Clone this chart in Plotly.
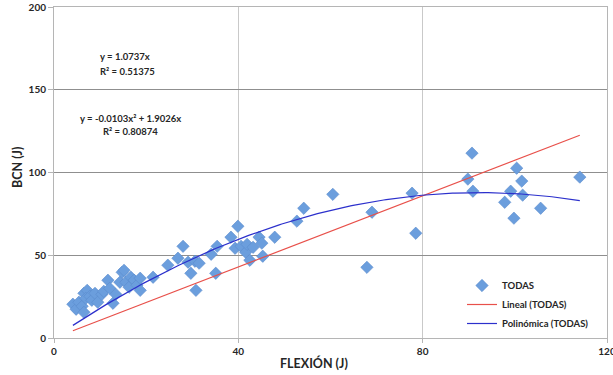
import numpy as np
import plotly.graph_objects as go

# Data (FLEXIÓN J vs BCN J)
flexion = [4.1, 4.8, 5.4, 6.1, 6.5, 7.2, 6.9, 7.8, 6.5, 8.2,
           8.9, 9.5, 10.4, 10.8, 11.7, 12.1, 12.8, 13.4, 14.3, 14.8,
           15.2, 15.6, 16.3, 16.7, 17.4, 18.0, 18.7, 18.7, 21.5, 24.7,
           26.9, 28.0, 29.1, 29.7, 30.6, 30.8, 31.5, 34.1, 35.1, 35.4,
           38.4, 39.9, 39.3, 40.6, 41.6, 41.9, 43.2, 42.5, 44.5, 45.1,
           45.3, 47.9, 52.7, 54.2, 60.5, 67.9, 69.0, 77.7, 78.5, 89.8,
           90.7, 90.9, 97.8, 99.1, 99.8, 100.4, 101.5, 101.7, 105.6, 114.1]
bcn = [20.4, 17.4, 21.6, 19.2, 27.0, 28.8, 24.0, 25.2, 15.5, 22.8,
       27.0, 21.6, 26.4, 28.2, 34.9, 30.0, 21.0, 26.4, 33.7, 39.7,
       40.9, 33.7, 30.7, 36.7, 34.9, 31.9, 36.1, 28.8, 36.7, 44.0,
       48.2, 55.4, 45.8, 39.1, 46.4, 28.8, 45.2, 50.6, 39.1, 55.4,
       60.9, 67.5, 54.2, 55.4, 51.8, 56.6, 54.8, 47.0, 60.9, 57.3,
       49.4, 60.9, 70.6, 78.4, 86.8, 42.7, 76.0, 87.5, 63.3, 96.0,
       111.7, 88.7, 82.0, 88.7, 72.4, 102.6, 94.8, 86.3, 78.4, 97.2]

# Trendline coefficients shown on the chart
lin_coef = [1.0737]            # y = a*x
poly_coef = [-0.0103, 1.9026]  # y = a*x^2 + b*x
lin_label = ["y = 1.0737x", "R² = 0.51375"]
poly_label = ["y = -0.0103x² + 1.9026x", "R² = 0.80874"]

x_ticks = [0, 40, 80, 120]
y_ticks = [0, 50, 100, 150, 200]

xs = np.linspace(min(flexion), max(flexion), 200)
y_lin = lin_coef[0] * xs
y_poly = poly_coef[0] * xs ** 2 + poly_coef[1] * xs

FONT = "Lato"
TXT = "#262626"

# plot-area geometry (pixels)
L, R, T, B = 54, 6, 7, 37
W, H = 613, 375
PW, PH = W - L - R, H - T - B


def px_x(px):
    return (px - L) / PW


def px_y(py):
    return (H - B - py) / PH


fig = go.Figure()
fig.add_trace(go.Scatter(
    x=flexion, y=bcn, mode="markers", name="TODAS",
    marker=dict(symbol="diamond", size=9.5, color="#6b9edd",
                line=dict(color="#5b8ccc", width=0.6))))
fig.add_trace(go.Scatter(
    x=xs, y=y_lin, mode="lines", name="Lineal (TODAS)",
    line=dict(color="#e8504a", width=1.2)))
fig.add_trace(go.Scatter(
    x=xs, y=y_poly, mode="lines", name="Polinómica (TODAS)",
    line=dict(color="#2c30cc", width=1.2)))

ann_font = dict(family=FONT, size=9.5, color=TXT, weight="bold")
eq_pos = [(125, 57), (127, 71), (130, 118), (130, 131)]
eq_txt = [lin_label[0], lin_label[1], poly_label[0], poly_label[1]]
for (px, py), t in zip(eq_pos, eq_txt):
    fig.add_annotation(xref="paper", yref="paper", showarrow=False,
                       x=px_x(px), y=px_y(py), xanchor="center", yanchor="middle",
                       text=t, font=ann_font)
# axis titles
fig.add_annotation(xref="paper", yref="paper", showarrow=False,
                   x=px_x(314), y=px_y(363), xanchor="center", yanchor="middle",
                   text="FLEXIÓN (J)",
                   font=dict(family=FONT, size=12.5, color=TXT, weight="bold"))
fig.add_annotation(xref="paper", yref="paper", showarrow=False,
                   x=px_x(18), y=px_y(168), xanchor="center", yanchor="middle",
                   text="BCN (J)", textangle=-90,
                   font=dict(family=FONT, size=12.5, color=TXT, weight="bold"))

fig.update_layout(
    width=W, height=H,
    margin=dict(l=L, r=R, t=T, b=B, autoexpand=False),
    paper_bgcolor="white", plot_bgcolor="white",
    showlegend=True,
    legend=dict(x=px_x(462), y=px_y(271), xanchor="left", yanchor="top",
                bgcolor="rgba(0,0,0,0)",
                font=dict(family=FONT, size=9.5, color=TXT, weight="bold"),
                tracegroupgap=0, itemwidth=30),
)

fig.update_xaxes(range=[0, 120], tickvals=x_ticks, ticktext=[str(v) for v in x_ticks],
                 showgrid=True, gridcolor="#c9c9c9", gridwidth=1,
                 showline=True, linecolor="#b5b5b5", linewidth=1, mirror=True,
                 ticks="outside", ticklen=4, tickcolor="#b5b5b5",
                 zeroline=False, ticklabeloverflow="allow", automargin=False,
                 tickfont=dict(family=FONT, size=10, color=TXT, weight="bold"))
fig.update_yaxes(range=[0, 200], tickvals=y_ticks, ticktext=[str(v) for v in y_ticks],
                 showgrid=True, gridcolor="#8f8f8f", gridwidth=1,
                 showline=True, linecolor="#b5b5b5", linewidth=1, mirror=True,
                 ticks="outside", ticklen=5, tickcolor="#b5b5b5",
                 zeroline=False, automargin=False,
                 tickfont=dict(family=FONT, size=10, color=TXT, weight="bold"))

fig.write_html("out.html",
               config={"displayModeBar": False},
               post_script="document.body.style.margin='0';"
                           "document.body.style.overflow='hidden';")
